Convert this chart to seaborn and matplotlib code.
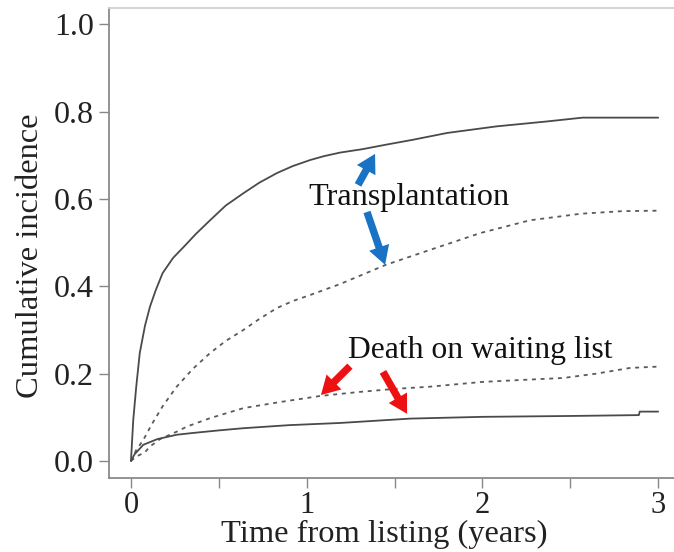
import matplotlib
matplotlib.use("Agg")
import matplotlib.pyplot as plt
import seaborn as sns
import pandas as pd

# ---- data ----
tx_solid_t = [0, 0.013, 0.03, 0.05, 0.08, 0.108, 0.14, 0.18, 0.24, 0.30, 0.37, 0.45, 0.54, 0.64,
              0.73, 0.83, 0.92, 1.02, 1.10, 1.19, 1.32, 1.45, 1.60, 1.80, 2.08, 2.36, 2.57, 3.0]
tx_solid_v = [0, 0.094, 0.17, 0.247, 0.31, 0.353, 0.39, 0.43, 0.465, 0.49, 0.52, 0.551, 0.585, 0.613,
              0.637, 0.659, 0.675, 0.689, 0.698, 0.706, 0.714, 0.724, 0.735, 0.751, 0.766, 0.777, 0.786, 0.786]

tx_dot_t = [0, 0.03, 0.07, 0.12, 0.18, 0.26, 0.35, 0.45, 0.54, 0.64, 0.73, 0.83, 0.92, 1.02,
            1.19, 1.45, 1.70, 1.99, 2.27, 2.56, 2.80, 3.0]
tx_dot_v = [0, 0.025, 0.048, 0.085, 0.125, 0.17, 0.21, 0.247, 0.275, 0.30, 0.325, 0.35, 0.366, 0.38,
            0.405, 0.449, 0.483, 0.522, 0.551, 0.566, 0.572, 0.573]

dth_dot_t = [0, 0.03, 0.08, 0.108, 0.165, 0.26, 0.32, 0.45, 0.64, 0.85, 1.08, 1.30, 1.50, 1.70,
             2.0, 2.2, 2.46, 2.65, 2.84, 3.0]
dth_dot_v = [0, 0.01, 0.02, 0.033, 0.05, 0.067, 0.079, 0.098, 0.121, 0.135, 0.149, 0.158, 0.165, 0.170,
             0.181, 0.185, 0.19, 0.20, 0.213, 0.216]

dth_solid_t = [0, 0.02, 0.07, 0.15, 0.26, 0.35, 0.5, 0.64, 0.9, 1.19, 1.59, 2.0, 2.5, 2.89, 2.895, 3.0]
dth_solid_v = [0, 0.015, 0.037, 0.05, 0.06, 0.064, 0.07, 0.075, 0.082, 0.087, 0.097, 0.101, 0.103, 0.105, 0.113, 0.113]

y_ticks = [0.0, 0.2, 0.4, 0.6, 0.8, 1.0]
y_ticklabels = ["0.0", "0.2", "0.4", "0.6", "0.8", "1.0"]
x_major = [0, 1, 2, 3]
x_minor = [0.5, 1.5, 2.5]

sns.set_style("ticks")
plt.rcParams['font.family'] = ['Liberation Serif', 'DejaVu Serif']

FS = 23

fig = plt.figure(figsize=(6.74, 5.52), dpi=100)
ax = fig.add_axes([109 / 674, 1 - 478 / 552, 1 - 109 / 674, (478 - 8) / 552])

series = [
    (tx_solid_t, tx_solid_v, "#4a4a4a", None),
    (tx_dot_t, tx_dot_v, "#5a5a5a", (0, (2.2, 2.6))),
    (dth_dot_t, dth_dot_v, "#5a5a5a", (0, (2.2, 2.6))),
    (dth_solid_t, dth_solid_v, "#4a4a4a", None),
]
for t, v, col, dash in series:
    df = pd.DataFrame({"time": t, "inc": v})
    sns.lineplot(data=df, x="time", y="inc", ax=ax, color=col, linewidth=1.3,
                 estimator=None, sort=False)
    if dash is not None:
        ax.lines[-1].set_linestyle(dash)

ax.set_xlim(-0.125, 3.09)
ax.set_ylim(-0.039, 1.037)

ax.set_yticks(y_ticks)
ax.set_yticklabels(y_ticklabels)
ax.set_xticks(x_major)
ax.set_xticks(x_minor, minor=True)
ax.tick_params(axis="both", which="both", length=7, width=1, color="#888888",
               labelcolor="#222222")
ax.tick_params(axis="y", pad=4, labelsize=FS)
ax.tick_params(axis="x", pad=2.5, labelsize=22)

for s in ["left", "bottom"]:
    ax.spines[s].set_color("#8a8a8a")
    ax.spines[s].set_linewidth(1.3)
ax.spines["top"].set_color("#d0d0d0")
ax.spines["top"].set_linewidth(1.3)
ax.spines["right"].set_visible(False)

ax.set_xlabel("Time from listing (years)", fontsize=23.4, color="#222222")
ax.set_ylabel("Cumulative incidence", fontsize=23.4, color="#222222")
ax.xaxis.set_label_coords((384 - 109) / (674 - 109), (478 - 520) / 470)
ax.yaxis.set_label_coords((45 - 109) / (674 - 109), (478 - 256) / 470)

ax.text(1.007, 0.586, "Transplantation", fontsize=23.2, color="#111111", ha="left", va="baseline")
ax.text(1.235, 0.236, "Death on waiting list", fontsize=22.8, color="#111111", ha="left", va="baseline")

astyle = "simple,head_length=0.7,head_width=0.8,tail_width=0.28"
arrows = [
    ((1.292, 0.632), (1.389, 0.703), "#1a72c4"),
    ((1.343, 0.570), (1.446, 0.449), "#1a72c4"),
    ((1.246, 0.217), (1.081, 0.151), "#ee1111"),
    ((1.434, 0.204), (1.571, 0.108), "#ee1111"),
]
for tail, tip, col in arrows:
    ax.annotate("", xy=tip, xytext=tail,
                arrowprops=dict(arrowstyle=astyle, color=col, lw=0, mutation_scale=19,
                                shrinkA=0, shrinkB=0))

fig.savefig("out.png", dpi=100)
